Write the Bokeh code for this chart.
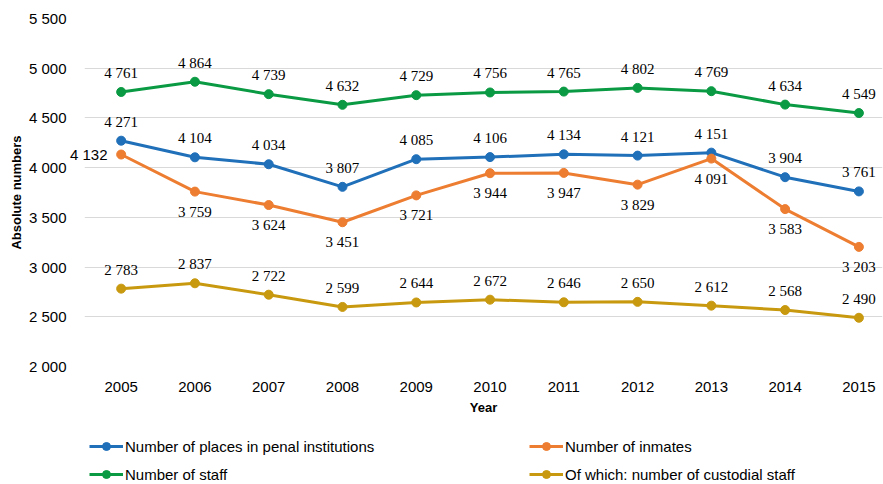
from bokeh.plotting import figure
from bokeh.layouts import column
from bokeh.models import (ColumnDataSource, Legend, LegendItem, FixedTicker, Range1d,
                          LabelSet, LinearAxis)
from bokeh.embed import file_html
from bokeh.resources import INLINE

years = [2005, 2006, 2007, 2008, 2009, 2010, 2011, 2012, 2013, 2014, 2015]
places = [4271, 4104, 4034, 3807, 4085, 4106, 4134, 4121, 4151, 3904, 3761]
inmates = [4132, 3759, 3624, 3451, 3721, 3944, 3947, 3829, 4091, 3583, 3203]
staff = [4761, 4864, 4739, 4632, 4729, 4756, 4765, 4802, 4769, 4634, 4549]
custodial = [2783, 2837, 2722, 2599, 2644, 2672, 2646, 2650, 2612, 2568, 2490]
y_ticks = [2000, 2500, 3000, 3500, 4000, 4500, 5000, 5500]
series_names = ["Number of places in penal institutions", "Number of inmates",
                "Number of staff", "Of which: number of custodial staff"]
colors = ["#1f6fb9", "#ed7d31", "#0a9a43", "#c8990f"]


def fmt(v):
    return f"{v:,}".replace(",", " ")


FONT = "Liberation Sans"

p = figure(frame_width=798, frame_height=348, output_backend="svg", toolbar_location=None,
           x_range=Range1d(2004.503, 2015.32), y_range=Range1d(2000, 5500),
           min_border_left=84, min_border_right=1, min_border_top=18, min_border_bottom=60,
           background_fill_color="white", border_fill_color="white")
p.outline_line_color = None
p.xgrid.grid_line_color = None
p.ygrid.grid_line_color = "#d9d9d9"
p.ygrid.grid_line_width = 1

p.yaxis.ticker = FixedTicker(ticks=y_ticks)
p.yaxis.major_label_overrides = {t: fmt(t) for t in y_ticks}
p.xaxis.ticker = FixedTicker(ticks=years)
p.xaxis.major_label_overrides = {y: str(y) for y in years}


def style_axis(ax):
    ax.axis_line_color = None
    ax.major_tick_line_color = None
    ax.minor_tick_line_color = None
    ax.major_label_text_font = FONT
    ax.major_label_text_font_size = "15px"
    ax.major_label_text_color = "#000000"
    ax.axis_label_text_font = FONT
    ax.axis_label_text_font_size = "13px"
    ax.axis_label_text_font_style = "bold"
    ax.axis_label_text_color = "#000000"


style_axis(p.xaxis[0])
style_axis(p.yaxis[0])
p.xaxis.major_label_standoff = 9
p.xaxis.axis_label = "Year"
p.xaxis.axis_label_standoff = 5

main_y = p.yaxis[0]
main_y.axis_label = "Absolute numbers"
main_y.major_label_standoff = -6
main_y.axis_label_standoff = 2

# the 2005 inmates value sits left of its point, partly outside the frame:
# it is drawn as the single label of an inner axis
inner = LinearAxis(ticker=FixedTicker(ticks=[inmates[0]]),
                   major_label_overrides={inmates[0]: fmt(inmates[0])})
style_axis(inner)
inner.major_label_standoff = -29
p.left = [inner, main_y]

all_series = [places, inmates, staff, custodial]
for name, vals, col in zip(series_names, all_series, colors):
    src = ColumnDataSource(dict(x=years, y=vals))
    p.line("x", "y", source=src, line_color=col, line_width=3)
    p.scatter("x", "y", source=src, size=9, fill_color=col, line_color=col)


def add_labels(xs, vals, yoff):
    src = ColumnDataSource(dict(x=xs, y=vals, t=[fmt(v) for v in vals]))
    p.add_layout(LabelSet(x="x", y="y", text="t", source=src, text_font=FONT,
                          text_font_size="15px", text_color="#000000",
                          text_align="center", text_baseline="middle",
                          y_offset=yoff))


add_labels(years, places, 19)
add_labels(years[1:], inmates[1:], -20)
add_labels(years, staff, 19)
add_labels(years, custodial, 19)

# legend in its own strip below the chart (its frame is aligned with the chart's)
lf = figure(width=883, height=58, output_backend="svg", toolbar_location=None,
            x_range=Range1d(0, 1), y_range=Range1d(0, 1),
            x_axis_location=None, y_axis_location=None, min_border=0,
            background_fill_color="white", border_fill_color="white")
lf.outline_line_color = None
lf.grid.visible = False
items = []
for name, vals, col in zip(series_names, all_series, colors):
    src = ColumnDataSource(dict(x=years, y=vals))  # outside this strip's ranges
    ln = lf.line("x", "y", source=src, line_color=col, line_width=3)
    mk = lf.scatter("x", "y", source=src, size=8, fill_color=col, line_color=col)
    items.append(LegendItem(label=name, renderers=[ln, mk]))

for row_items, yloc in (([items[0], items[1]], 28), ([items[2], items[3]], 0)):
    lg = Legend(items=row_items, orientation="horizontal", location=(5, yloc),
                label_text_font=FONT, label_text_font_size="15px",
                label_text_color="#000000", glyph_width=34, glyph_height=20,
                label_standoff=2, label_width=404, label_height=20, spacing=0,
                padding=0, margin=0,
                border_line_color=None, background_fill_alpha=0)
    lf.add_layout(lg, "center")

open("out.html", "w").write(file_html(column(p, lf, spacing=0), INLINE))
